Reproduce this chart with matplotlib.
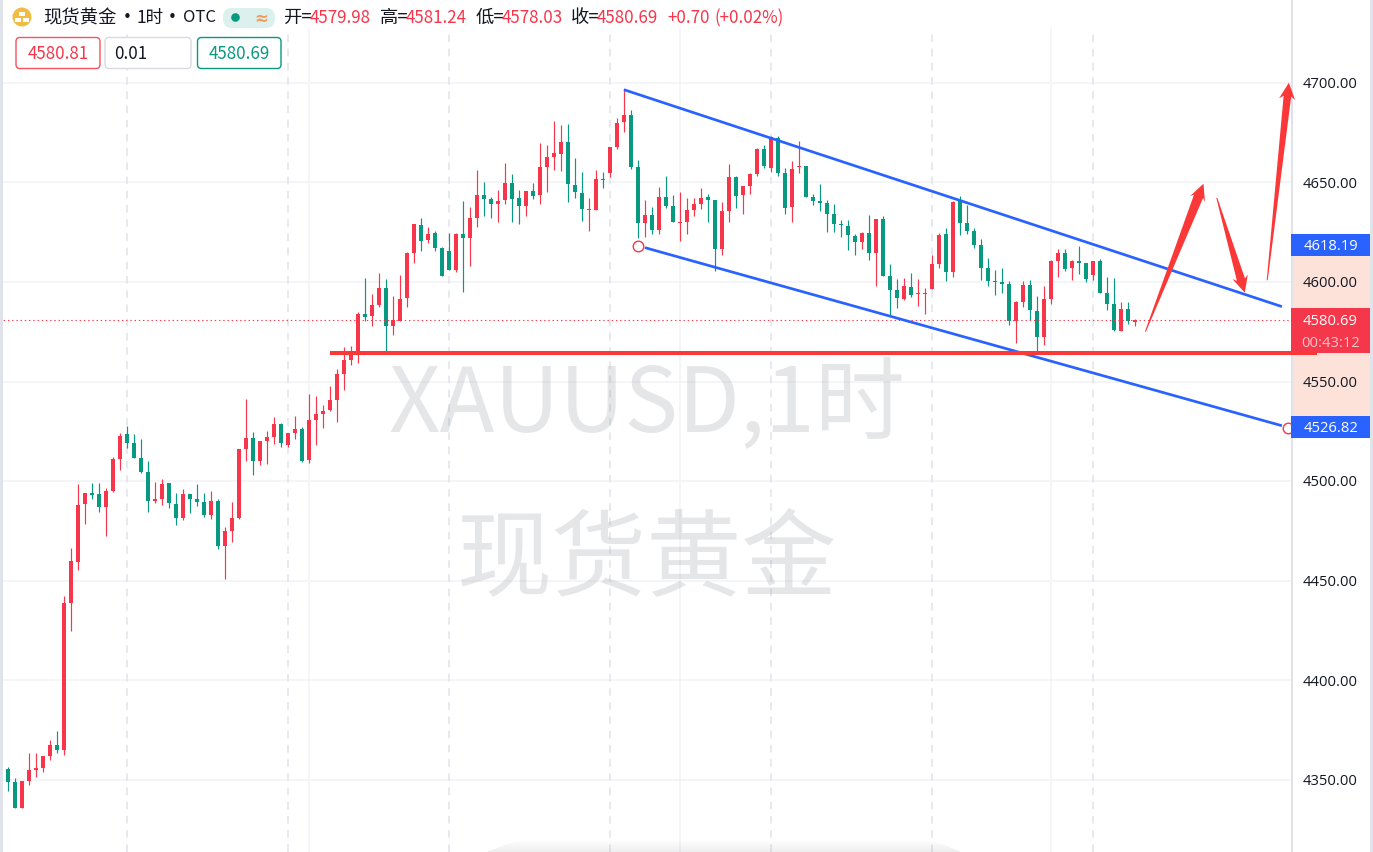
import matplotlib
matplotlib.use("Agg")
import matplotlib.pyplot as plt
import numpy as np
from matplotlib.patches import Rectangle, FancyBboxPatch, Circle, Polygon
from matplotlib.transforms import Affine2D

W, H = 1373, 853
FONT = ['Noto Sans CJK SC', 'DejaVu Sans']
plt.rcParams['font.family'] = FONT

# ---------- candle data (bar order, left to right) ----------
opens = [4355.5,4348.8,4335.9,4349.6,4355.2,4356.0,4362.2,4367.5,4365.2,4439.0,4459.6,4488.4,4493.7,4493.7,4487.2,4495.2,4511.3,4523.8,4519.0,4511.4,
 4504.8,4489.9,4491.0,4498.9,4488.7,4481.3,4493.7,4491.0,4489.5,4482.8,4490.2,4467.3,4475.1,4481.7,4516.3,4521.7,4510.3,4520.0,4522.3,4528.5,
 4518.1,4524.2,4526.2,4510.7,4530.8,4533.8,4535.8,4540.7,4553.6,4560.9,4565.1,4583.9,4582.7,4588.6,4597.1,4578.0,4580.5,4591.8,4614.7,4628.7,
 4620.9,4624.6,4616.9,4615.5,4606.1,4624.2,4621.9,4632.2,4643.6,4641.4,4639.3,4641.0,4649.6,4642.1,4637.9,4645.8,4643.5,4657.9,4662.9,4664.4,
 4670.2,4648.8,4644.6,4635.9,4636.3,4651.8,4654.8,4667.9,4680.3,4683.9,4657.7,4629.6,4633.4,4625.9,4642.8,4638.3,4629.6,4630.1,4636.3,4639.1,
 4642.6,4640.9,4616.5,4635.8,4652.8,4643.4,4648.3,4654.2,4666.9,4657.2,4672.4,4654.7,4637.4,4657.5,4658.3,4642.6,4640.4,4639.4,4634.2,4628.7,
 4628.2,4623.2,4620.2,4624.7,4614.3,4631.6,4602.8,4596.1,4591.4,4597.6,4593.7,4593.7,4596.6,4609.1,4623.9,4605.1,4641.3,4629.5,4625.4,4618.7,
 4607.0,4600.1,4599.9,4598.9,4580.5,4590.1,4598.3,4585.6,4572.5,4591.4,4610.5,4614.7,4606.8,4610.3,4609.3,4603.6,4610.6,4594.4,4588.7,4575.5,
 4586.2,4579.98]
highs = [4356.5,4351.0,4349.6,4363.5,4363.5,4362.2,4369.9,4374.4,4442.5,4466.3,4498.7,4493.9,4499.2,4499.0,4496.6,4512.1,4524.2,4527.5,4523.8,4521.2,
 4510.3,4499.7,4501.1,4499.0,4494.0,4496.0,4493.7,4498.7,4494.0,4495.0,4491.2,4477.1,4489.4,4516.1,4541.0,4524.7,4520.2,4525.2,4532.2,4529.2,
 4524.2,4532.9,4527.2,4543.9,4542.8,4538.2,4547.9,4556.2,4567.3,4568.0,4584.9,4601.8,4594.1,4604.5,4601.5,4592.8,4603.6,4615.0,4629.1,4632.1,
 4627.6,4625.6,4617.5,4624.6,4624.6,4640.8,4637.6,4656.3,4650.2,4642.5,4646.3,4659.7,4654.3,4646.0,4645.8,4649.8,4669.9,4668.7,4680.8,4678.8,
 4679.4,4662.2,4655.0,4642.1,4656.2,4655.2,4667.9,4682.3,4696.8,4686.1,4661.2,4641.3,4637.6,4647.6,4653.3,4643.6,4645.3,4642.3,4642.3,4647.3,
 4644.3,4640.9,4639.9,4659.3,4653.3,4648.3,4654.7,4667.4,4668.7,4673.4,4673.4,4657.2,4660.7,4670.5,4658.3,4644.3,4649.3,4641.1,4639.3,4630.9,
 4630.9,4624.2,4624.9,4633.6,4631.6,4633.2,4609.2,4601.5,4602.1,4604.5,4601.4,4596.9,4613.3,4624.7,4627.0,4640.8,4642.9,4638.6,4627.0,4621.5,
 4611.8,4605.8,4606.8,4600.6,4590.4,4600.3,4601.1,4593.1,4598.1,4611.1,4616.5,4616.3,4611.0,4618.0,4609.5,4610.6,4611.5,4602.4,4602.1,4589.7,
 4589.9,4581.24]
lows = [4344.3,4335.9,4335.9,4347.6,4351.5,4353.8,4359.8,4363.5,4362.3,4424.9,4455.6,4478.5,4490.9,4484.5,4472.3,4494.5,4505.4,4516.5,4511.4,4503.9,
 4484.5,4488.9,4488.2,4486.5,4478.2,4480.3,4483.8,4487.3,4481.8,4481.0,4465.8,4450.9,4469.4,4481.0,4510.3,4502.9,4507.9,4508.4,4518.5,4517.0,
 4517.0,4521.2,4509.8,4509.0,4518.2,4526.6,4535.3,4529.6,4545.5,4558.4,4559.1,4580.5,4578.0,4587.2,4565.2,4573.4,4580.2,4587.4,4609.3,4615.4,
 4619.5,4615.5,4603.0,4606.0,4604.8,4594.9,4608.2,4627.6,4633.2,4632.2,4629.9,4639.3,4630.3,4628.9,4632.9,4641.8,4639.1,4645.3,4656.2,4655.5,
 4640.0,4642.1,4630.6,4625.4,4635.9,4647.0,4652.5,4666.9,4675.2,4656.7,4622.0,4622.4,4623.9,4624.2,4637.3,4629.9,4620.4,4624.2,4632.9,4636.6,
 4630.1,4605.3,4613.7,4629.9,4637.1,4634.1,4644.1,4653.3,4657.3,4655.0,4653.0,4634.2,4630.2,4654.8,4642.4,4638.8,4635.4,4624.9,4624.9,4622.4,
 4616.2,4613.3,4616.7,4610.8,4598.1,4602.8,4583.1,4587.1,4590.7,4592.4,4587.7,4584.0,4596.6,4607.0,4600.6,4602.4,4623.7,4624.2,4617.2,4600.8,
 4598.1,4593.6,4594.4,4578.2,4569.2,4587.2,4580.7,4565.1,4568.5,4588.9,4602.4,4605.3,4600.9,4604.1,4599.9,4601.1,4594.4,4585.7,4575.3,4575.2,
 4578.9,4578.03]
closes = [4348.8,4335.9,4349.6,4355.2,4356.2,4362.2,4367.4,4365.0,4439.0,4459.9,4488.2,4493.9,4493.2,4487.2,4495.2,4511.3,4522.8,4519.0,4511.8,4504.8,
 4489.9,4490.9,4498.7,4488.9,4481.5,4493.7,4491.2,4489.7,4482.8,4490.2,4467.3,4475.0,4481.7,4516.1,4521.7,4510.3,4520.0,4522.2,4528.7,4519.1,
 4524.2,4526.3,4510.3,4530.8,4533.6,4535.3,4540.5,4553.6,4560.8,4565.1,4583.9,4582.5,4588.4,4597.1,4578.0,4581.0,4591.6,4614.5,4628.9,4620.7,
 4624.2,4617.2,4603.1,4606.1,4624.2,4621.9,4632.1,4643.5,4641.6,4638.9,4640.6,4649.8,4641.8,4637.9,4645.6,4643.3,4657.7,4662.5,4664.5,4670.2,
 4649.0,4645.0,4636.8,4636.6,4651.7,4651.2,4667.7,4679.8,4683.9,4657.7,4629.6,4633.4,4626.0,4642.8,4638.3,4630.1,4630.2,4636.3,4639.1,4642.1,
 4640.9,4616.7,4635.6,4652.5,4643.3,4648.1,4654.3,4666.9,4658.3,4672.7,4654.8,4637.3,4656.8,4658.2,4642.6,4640.6,4639.8,4634.2,4628.9,4628.4,
 4623.4,4620.2,4624.7,4614.3,4631.6,4602.8,4596.1,4591.7,4597.8,4593.6,4594.1,4594.2,4609.1,4623.7,4605.1,4639.9,4629.7,4625.4,4618.7,4607.0,
 4600.3,4599.8,4598.9,4580.5,4590.1,4598.3,4585.9,4572.5,4591.2,4610.6,4614.7,4606.5,4610.3,4609.5,4601.6,4610.5,4594.6,4588.9,4575.8,4586.2,
 4580.4,4580.69]

# ---------- axis, grid and drawing objects ----------
price_ticks = [4700, 4650, 4600, 4550, 4500, 4450, 4400, 4350]
dashed_bars = [17, 40, 63, 86, 109, 132, 155]
solid_bars = [43, 96, 149]
last_price = 4580.69
level_price = 4564.5
level_bars = [46, 187]
upper_bars, upper_prices = [88, 182], [4696.5, 4587.6]
lower_bars, lower_prices = [91, 182], [4617.2, 4527.8]
anchor_bars, anchor_prices = [90, 182.8], [4618.19, 4526.82]
arrow_tails = [(162.5, 4575.0), (172.7, 4642.2), (179.9, 4600.8)]
arrow_tips = [(170.8, 4649.3), (176.7, 4594.6), (183.0, 4700.0)]
arrow_necks = [4.8, 4.2, 3.8]

RED, GREEN, BLUE = '#f7364b', '#089981', '#2962ff'
LINE_RED = '#fb3838'
GRID, DASH, EDGE, INK = '#f2f3f7', '#e0e3eb', '#dfe2ea', '#131722'

X0, Y4700 = 7.9, 83.7      # pixel of bar 0 and of the 4700 level
fig = plt.figure(figsize=(W / 100, H / 100), dpi=100, facecolor='white')
ax = fig.add_axes([0, 0, 1, 1])
ax.set_xlim(-X0 / 7, (W - X0) / 7)
ax.set_ylim(4700 - (H - Y4700) / 1.992, 4700 + Y4700 / 1.992)
ax.axis('off')
px = Affine2D().scale(1 / W, -1 / H).translate(0, 1) + fig.transFigure   # screen pixels, top-left origin

# grid
for p in price_ticks:
    ax.hlines(p, -2, 184.3, color=GRID, lw=1.1, zorder=1)
grid_top = ax.get_ylim()[1] - 29 / 1.992
for b in solid_bars:
    ax.vlines(b, ax.get_ylim()[0], grid_top, color=GRID, lw=1.1, zorder=1)
for b in dashed_bars:
    ax.vlines(b, ax.get_ylim()[0], grid_top, color=DASH, lw=1.1, linestyles=[(0, (5, 4.3))], zorder=1)

# soft shadow along the bottom edge
for k in range(12):
    ax.add_patch(Rectangle((488 + 2.5 * (11 - k), 841 + k), 472 - 5 * (11 - k), 1, transform=px,
                           fc='#8a8d96', ec='none', alpha=0.012 * (k + 1), zorder=1.2))

# watermark
wm = dict(transform=px, ha='center', va='center', color='#9598a1', alpha=0.24, zorder=1.5)
ax.text(646.5, 407, 'XAUUSD,1时', fontsize=64.8, **wm)
ax.text(647.5, 561, '现货黄金', fontsize=68.5, **wm)

# candles
bars = np.arange(len(opens))
o, h, l, c = map(np.array, (opens, highs, lows, closes))
up = c >= o
cols = np.where(up, RED, GREEN)
ax.vlines(bars, l, h, colors=cols, lw=0.85, zorder=2)
ax.bar(bars, np.maximum(np.abs(c - o), 0.6), bottom=np.minimum(o, c), width=4.3 / 7,
       color=cols, linewidth=0, zorder=2.2)

# last price line
ax.hlines(last_price, -2, 184.3, color=RED, lw=0.8, linestyles=[(0, (1.2, 2.6))], zorder=2.5)

# channel
ax.plot(upper_bars, upper_prices, color=BLUE, lw=1.95, zorder=3, solid_capstyle='butt')
ax.plot(lower_bars, lower_prices, color=BLUE, lw=1.95, zorder=3, solid_capstyle='butt')
ax.plot(anchor_bars, anchor_prices, ls='none', marker='o', ms=7.6, mfc='white', mec=RED, mew=1.0, zorder=3.5)

# side strips and price scale
ax.add_patch(Rectangle((0, 0), 3, H, transform=px, fc=DASH, ec='none', zorder=9))
ax.add_patch(Rectangle((1291, 0), 79, H, transform=px, fc='white', ec='none', zorder=4))
ax.add_patch(Rectangle((1370, 0), 3, H, transform=px, fc=DASH, ec='none', zorder=9))
ax.add_patch(Rectangle((1290.5, 0), 2, H, transform=px, fc=EDGE, ec='none', zorder=4.2))
ax.add_patch(Rectangle((1292, 257), 78, 160, transform=px, fc='#fde2da', ec='none', zorder=4.1))
ax.add_patch(Rectangle((1291, 235), 78.5, 22, transform=px, fc=BLUE, ec='none', zorder=4.4))
ax.add_patch(Rectangle((1291, 417), 78.5, 22, transform=px, fc=BLUE, ec='none', zorder=4.4))
ax.add_patch(Rectangle((1291, 309), 78.5, 45, transform=px, fc='#f5374c', ec='none', zorder=4.4))

SCALE = dict(ha='center', va='center', fontsize=10.6, zorder=5, fontfamily=['Open Sans', 'DejaVu Sans'])
for p in price_ticks:
    ax.text(1330.5, 84.5 + (4700 - p) * 1.992, f'{p:.2f}', transform=px, color=INK, **SCALE)
ax.text(1330.5, 247, f'{anchor_prices[0]:.2f}', transform=px, color='white', **SCALE)
ax.text(1330.5, 429, f'{anchor_prices[1]:.2f}', transform=px, color='white', **SCALE)
ax.text(1330.5, 322, f'{last_price:.2f}', transform=px, color='white', **SCALE)
ax.text(1330.5, 344, '00:43:12', transform=px, color='#fbc4ca', **SCALE)

# horizontal support level
ax.plot(level_bars, [level_price, level_price], color=LINE_RED, lw=2.9, zorder=6,
        solid_capstyle='butt', clip_on=False)

# hand-drawn arrows: tapered shaft and barbed head, built in screen space
def arrow(tail, tip, neck, head=16.5, half=8.0, fc=LINE_RED):
    t0 = ax.transData.transform(tail)
    t1 = ax.transData.transform(tip)
    d = (t1 - t0) / np.linalg.norm(t1 - t0)
    n = np.array([-d[1], d[0]])
    pts = [t0 + n * 0.5, t1 - d * head * 0.82 + n * neck, t1 - d * head + n * half, t1,
           t1 - d * head - n * half, t1 - d * head * 0.82 - n * neck, t0 - n * 0.5]
    ax.add_patch(Polygon(np.array(pts), closed=True, transform=None, fc=fc, ec='none', zorder=7))

fig.canvas.draw()
for tail, tip, neck in zip(arrow_tails, arrow_tips, arrow_necks):
    arrow(tail, tip, neck)

# ---------- header ----------
HD = dict(transform=px, va='center', fontsize=12.2, zorder=10)
CJ = dict(transform=px, va='center', fontsize=13.2, zorder=10)
ax.add_patch(Circle((22, 18), 9.5, transform=px, fc='#f0bc42', ec='none', zorder=10))
for bx, by in [(18.7, 13.0), (14.6, 18.8), (22.6, 18.8)]:
    ax.add_patch(Rectangle((bx, by), 6.6, 4.2, transform=px, fc='white', ec='none', zorder=10.5))
ax.text(43, 18, '现货黄金', color=INK, **CJ)
for x in [127, 172]:
    ax.text(x, 18, '•', transform=px, ha='center', va='center', color=INK, fontsize=11,
            fontfamily=['DejaVu Sans'], zorder=10)
ax.text(137, 18, '1时', color=INK, transform=px, va='center', fontsize=12.6, zorder=10)
ax.text(183, 18, 'OTC', color=INK, transform=px, va='center', fontsize=12.0, zorder=10)
ax.add_patch(FancyBboxPatch((223, 9), 52, 20, boxstyle='round,pad=0,rounding_size=9',
                            transform=px, fc='#dcf1ed', ec='none', zorder=10))
ax.add_patch(Circle((235.5, 18.5), 4.3, transform=px, fc=GREEN, ec='none', zorder=10.5))
ax.text(261, 18.5, '≈', transform=px, ha='center', va='center', color='#f39a5b', fontsize=12,
        fontweight='bold', fontfamily=['DejaVu Sans'], zorder=10.5)
for x, s in [(283, '开='), (380, '高='), (476, '低='), (571, '收=')]:
    ax.text(x, 18, s, color=INK, **CJ)
for x, s in [(310, '4579.98'), (406, '4581.24'), (502, '4578.03'), (597, '4580.69'),
             (667, '+0.70'), (715, '(+0.02%)')]:
    ax.text(x, 18, s, color=RED, **HD)
for x0, x1, s, ec, tc in [(16, 100, '4580.81', '#f7525f', RED), (105, 191, '0.01', '#d8dae2', INK),
                          (197.5, 281, '4580.69', GREEN, GREEN)]:
    ax.add_patch(FancyBboxPatch((x0, 38.5), x1 - x0, 31, boxstyle='round,pad=0,rounding_size=4',
                                transform=px, fc='white', ec=ec, lw=1.0, zorder=10))
    if s == '0.01':
        ax.text(x0 + 9, 54, s, color=tc, **HD)
    else:
        ax.text((x0 + x1) / 2, 54, s, color=tc, ha='center', **HD)

fig.savefig('out.png', dpi=100)
